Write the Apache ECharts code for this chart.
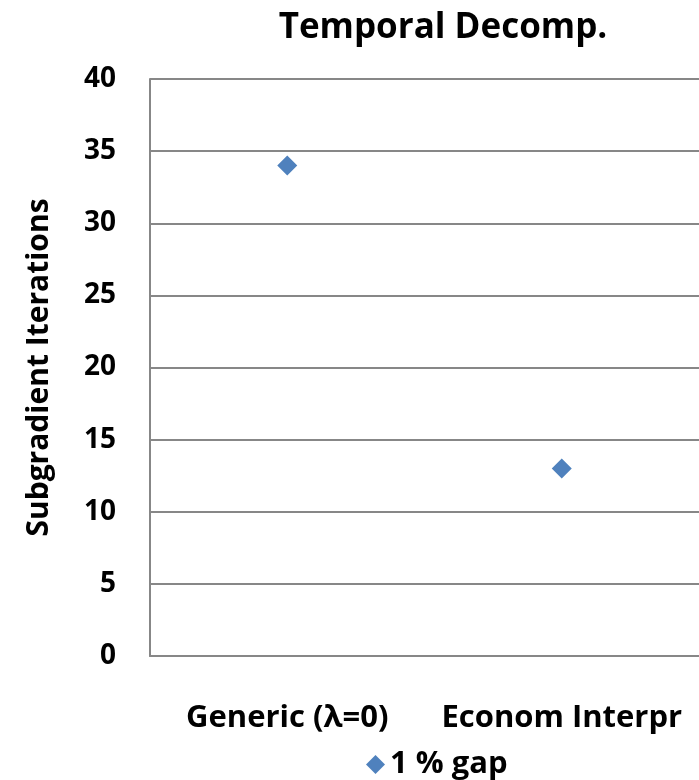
<!DOCTYPE html>
<html><head><meta charset="utf-8">
<script src="https://cdn.jsdelivr.net/npm/echarts@6/dist/echarts.min.js"></script>
<style>html,body{margin:0;padding:0;background:#fff}#c{width:699px;height:780px}</style>
</head><body><div id="c"></div>
<script>
const categories = ["Generic (λ=0)", "Econom Interpr"];
const seriesName = "1 % gap";
const values = [34, 13];
const yTicks = [0, 5, 10, 15, 20, 25, 30, 35, 40];

const font = "'Open Sans', sans-serif";
const chart = echarts.init(document.getElementById('c'));
chart.setOption({
  animation: false,
  title: {
    text: "Temporal Decomp.", left: 438, top: 6, textAlign: 'center',
    textStyle: {fontFamily: font, fontWeight: 'bold', fontSize: 35, color: '#000'}
  },
  legend: {
    data: [{name: seriesName, icon: 'diamond'}], left: 361, top: 744,
    itemWidth: 19, itemHeight: 19, itemGap: 6,
    textStyle: {fontFamily: font, fontWeight: 'bold', fontSize: 31, color: '#000'}
  },
  grid: {left: 150, right: -1, top: 79, bottom: 124, containLabel: false},
  xAxis: {
    type: 'category', data: categories, boundaryGap: true,
    axisLine: {show: true, lineStyle: {color: '#878787', width: 2}},
    axisTick: {show: false},
    axisLabel: {interval: 0, hideOverlap: false, margin: 47, fontFamily: font, fontWeight: 'bold', fontSize: 31, color: '#000'}
  },
  yAxis: {
    type: 'value', min: yTicks[0], max: yTicks[yTicks.length-1], interval: 5,
    name: "Subgradient Iterations", nameLocation: 'middle', nameGap: 96, nameRotate: 90,
    nameTextStyle: {fontFamily: font, fontWeight: 'bold', fontSize: 30, color: '#000'},
    axisLine: {show: true, lineStyle: {color: '#878787', width: 2}},
    axisTick: {show: false},
    splitLine: {show: true, lineStyle: {color: '#878787', width: 2}},
    axisLabel: {margin: 34, fontFamily: font, fontWeight: 'bold', fontSize: 28, color: '#000'}
  },
  series: [{
    name: seriesName, type: 'scatter', symbol: 'diamond', symbolSize: 20,
    itemStyle: {color: '#4F81BD', opacity: 1}, data: values
  }]
});
</script></body></html>
